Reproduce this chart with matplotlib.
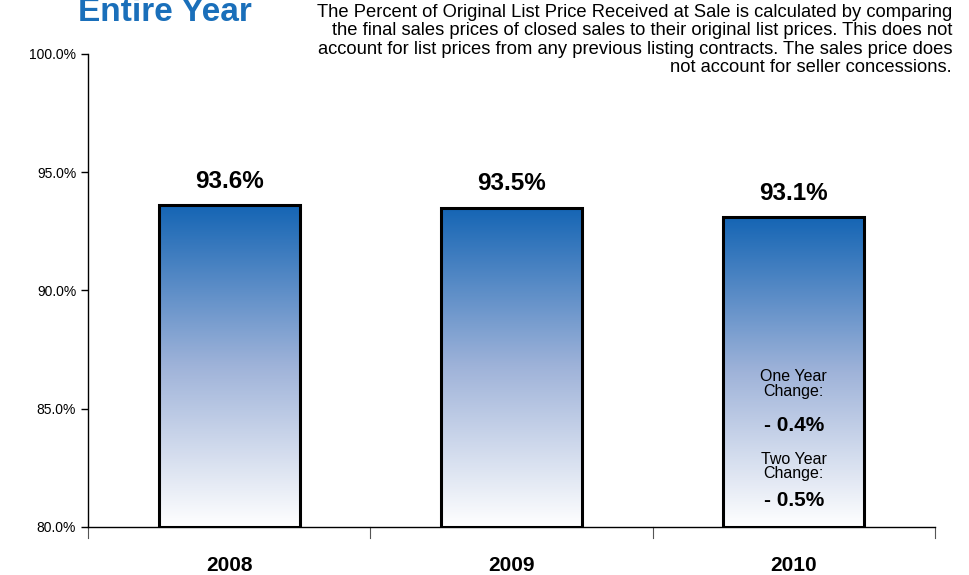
import numpy as np
import matplotlib.pyplot as plt
from matplotlib.colors import LinearSegmentedColormap
from matplotlib.patches import Rectangle

plt.rcParams['font.family'] = ['Liberation Sans', 'DejaVu Sans']

years = ['2008', '2009', '2010']
pct_received = [93.6, 93.5, 93.1]
one_year_change = -0.4
two_year_change = -0.5

title = 'Entire Year'
note = ('The Percent of Original List Price Received at Sale is calculated by comparing\n'
        'the final sales prices of closed sales to their original list prices. This does not\n'
        'account for list prices from any previous listing contracts. The sales price does\n'
        'not account for seller concessions.')

fig = plt.figure(figsize=(9.69, 5.75), dpi=100)
ax = fig.add_axes([0.0908, 0.0835, 0.874, 0.8226])

ymin, ymax = 80, 100
x = np.arange(len(years))
width = 0.5

# blue-to-white gradient for each bar
cmap = LinearSegmentedColormap.from_list('bluefade', ['#ffffff', '#9fb3d9', '#1565b4'])
grad = np.linspace(0, 1, 256).reshape(-1, 1)
for xi, v in zip(x, pct_received):
    ax.imshow(grad, cmap=cmap, aspect='auto', origin='lower',
              extent=[xi - width / 2, xi + width / 2, ymin, v], zorder=2)
    ax.add_patch(Rectangle((xi - width / 2, ymin), width, v - ymin, fill=False,
                           edgecolor='black', linewidth=2.2, zorder=3))
    ax.text(xi, v + 1.02, f'{v:.1f}%', ha='center', va='center',
            fontsize=17.5, fontweight='bold', zorder=4)

ax.set_xlim(-0.5, len(years) - 0.5)
ax.set_ylim(ymin, ymax)
ax.set_yticks(np.arange(80, 100.1, 5))
ax.set_yticklabels([f'{t:.1f}%' for t in np.arange(80, 100.1, 5)], fontsize=10)
ax.set_xticks(x)
ax.set_xticklabels(years, fontsize=15, fontweight='bold')
ax.tick_params(axis='x', length=0, pad=21)
ax.tick_params(axis='y', length=5, direction='out', width=1)

# category boundary ticks below the axis
for b in np.arange(-0.5, len(years), 1):
    ax.plot([b, b], [ymin, ymin - 0.45], color='#555555', lw=0.8, clip_on=False)

for s in ['top', 'right']:
    ax.spines[s].set_visible(False)
ax.spines['left'].set_linewidth(1)
ax.spines['bottom'].set_linewidth(1)

# change annotations inside the last bar
cx = x[-1]
ax.text(cx, 86.05, 'One Year\nChange:', ha='center', va='center', fontsize=11.5,
        linespacing=0.95, zorder=4)
ax.text(cx, 84.31, f'- {abs(one_year_change):.1f}%', ha='center', va='center',
        fontsize=15, fontweight='bold', zorder=4)
ax.text(cx, 82.56, 'Two Year\nChange:', ha='center', va='center', fontsize=11.5,
        linespacing=0.95, zorder=4)
ax.text(cx, 81.14, f'- {abs(two_year_change):.1f}%', ha='center', va='center',
        fontsize=15, fontweight='bold', zorder=4)

fig.text(165 / 969, 1 - 21 / 575, title, ha='center', va='baseline',
         fontsize=24, fontweight='bold', color='#1a6fba')
fig.text(952 / 969, 1 - 4 / 575, note, ha='right', va='top', fontsize=13.2,
         linespacing=1.1)

fig.savefig('out.png', dpi=100)
